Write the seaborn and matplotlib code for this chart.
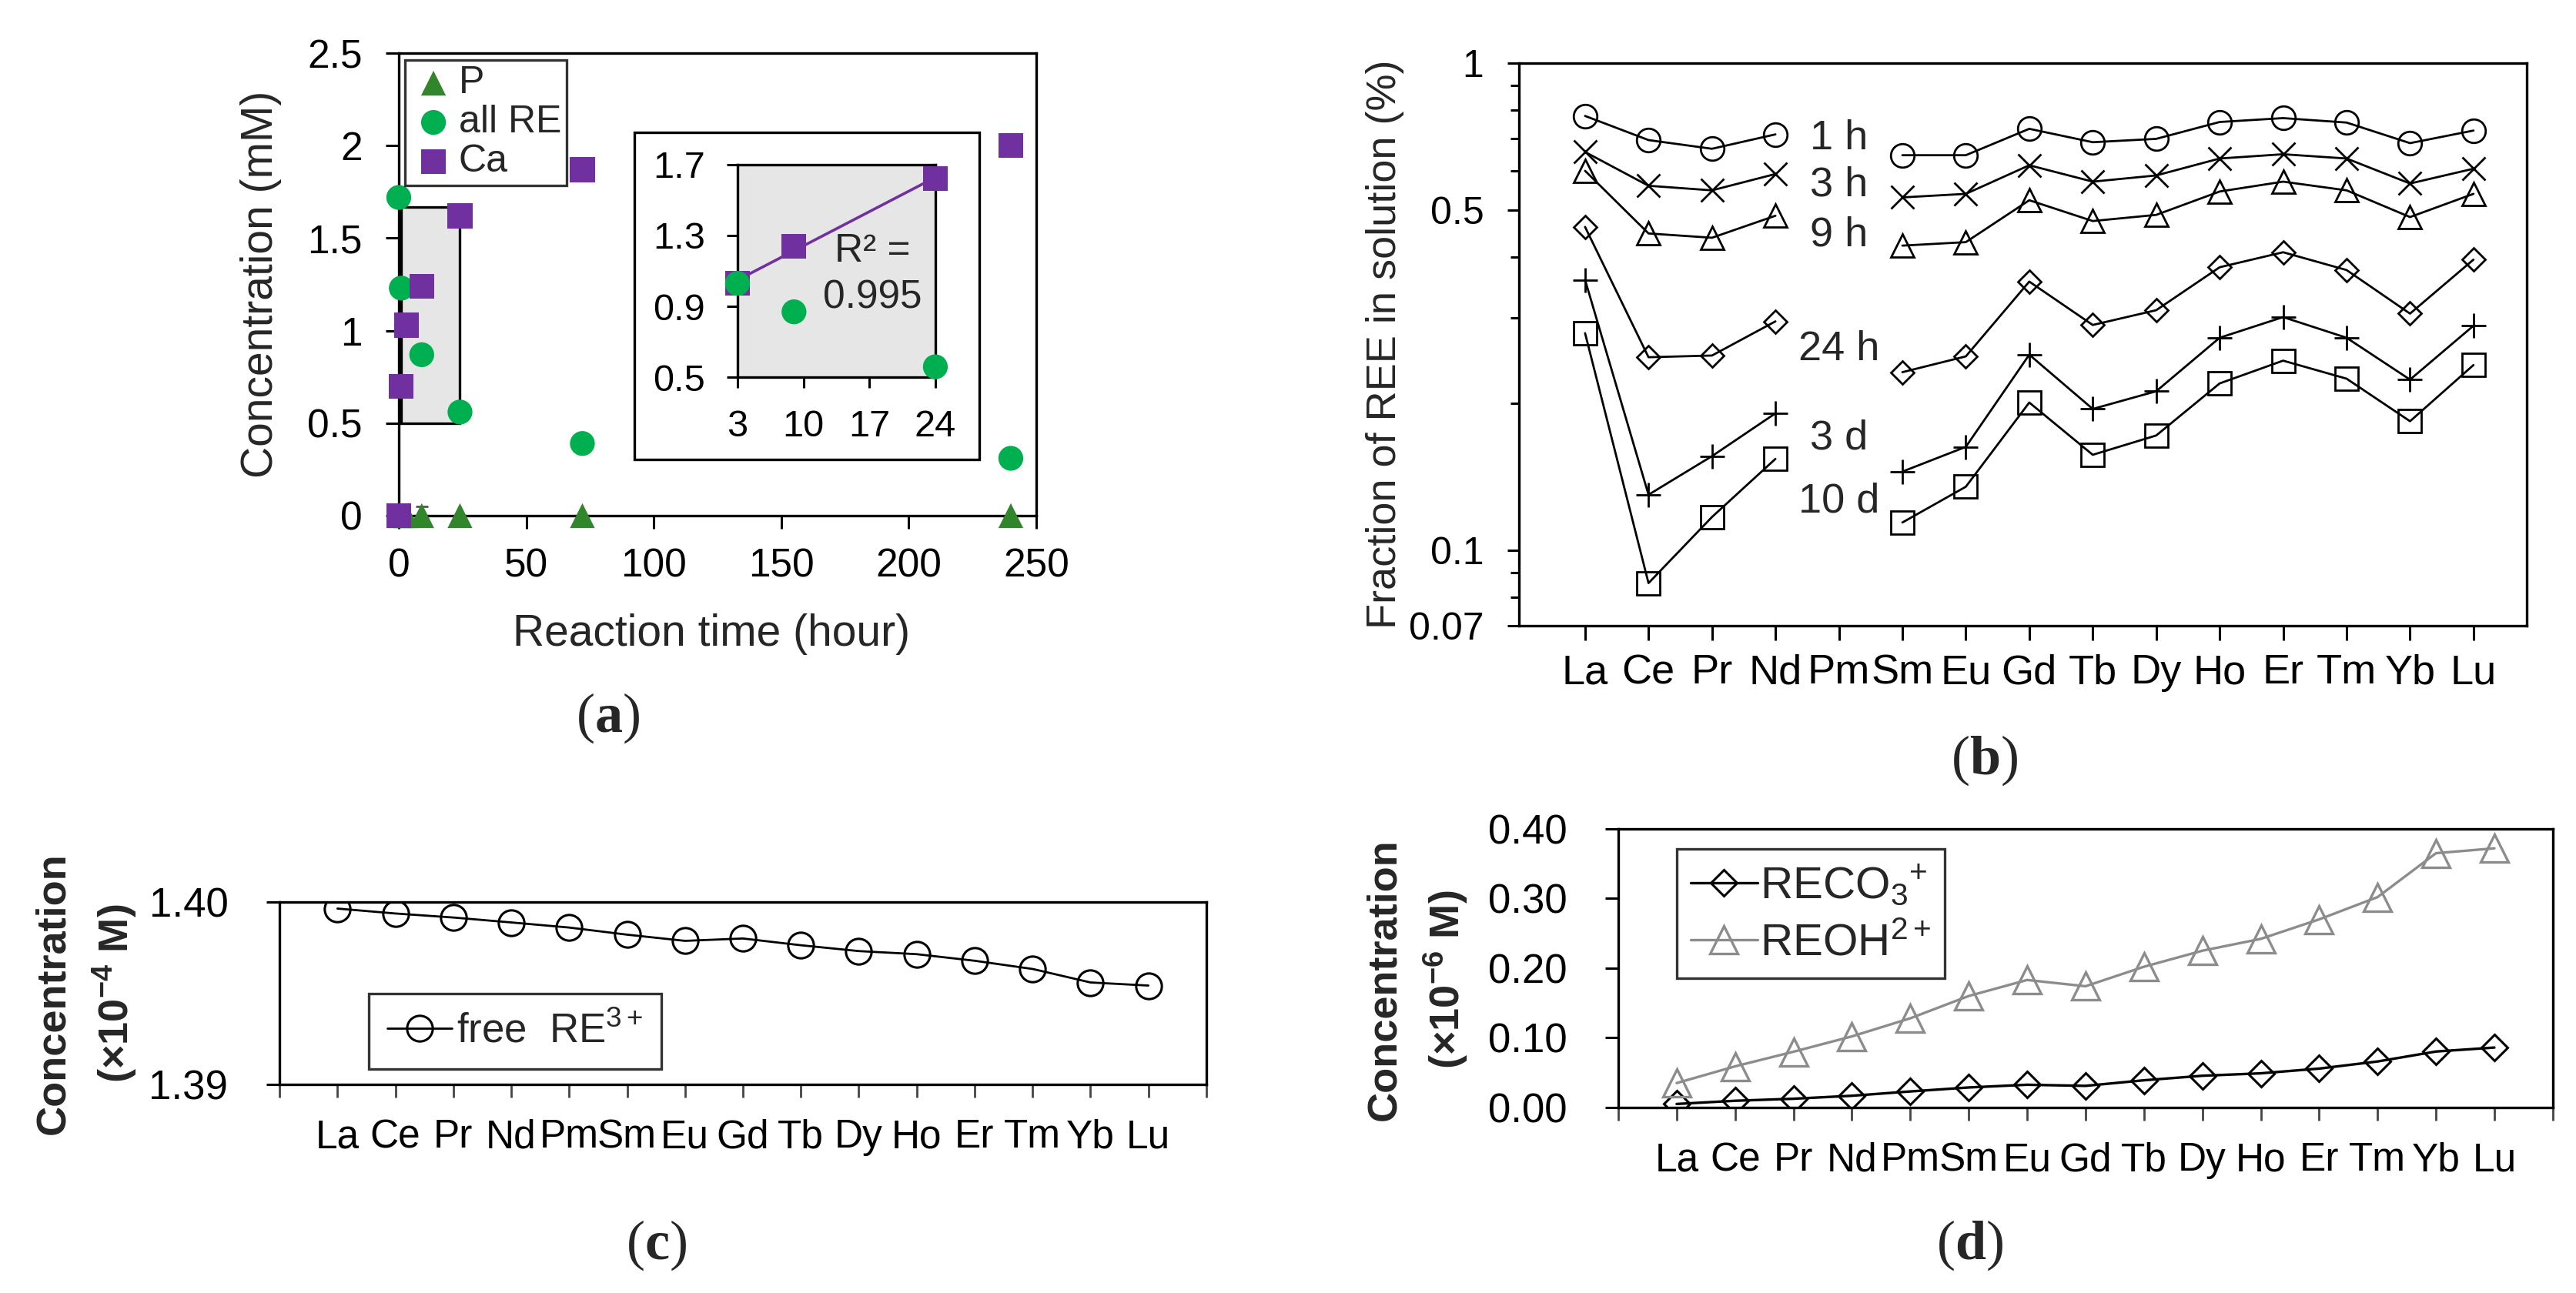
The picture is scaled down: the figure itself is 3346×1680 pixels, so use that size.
import numpy as np
import pandas as pd
import matplotlib
matplotlib.use("Agg")
import matplotlib.pyplot as plt
from matplotlib.patches import Rectangle
from matplotlib.ticker import FixedLocator, FixedFormatter, NullFormatter
import seaborn as sns

# --- (a) dissolution kinetics ---
hours = [0, 1, 3, 9, 24, 72, 240]
p_conc = [0, 0, 0, 0, 0, 0, 0]
re_conc = [1.72, 1.23, 1.03, 0.87, 0.56, 0.39, 0.31]
ca_conc = [0.0, 0.70, 1.03, 1.24, 1.62, 1.87, 2.00]

# --- (b) fraction of REE in solution (%), Pm not measured ---
elements = ["La", "Ce", "Pr", "Nd", "Pm", "Sm", "Eu", "Gd", "Tb", "Dy", "Ho", "Er", "Tm", "Yb", "Lu"]
nan = np.nan
frac_1h = [0.779, 0.695, 0.667, 0.714, nan, 0.647, 0.647, 0.733, 0.688, 0.699, 0.757, 0.771, 0.755, 0.685, 0.727]
frac_3h = [0.657, 0.560, 0.548, 0.592, nan, 0.530, 0.539, 0.617, 0.571, 0.588, 0.637, 0.650, 0.637, 0.566, 0.607]
frac_9h = [0.601, 0.447, 0.438, 0.486, nan, 0.422, 0.429, 0.523, 0.474, 0.488, 0.545, 0.571, 0.548, 0.483, 0.539]
frac_24h = [0.461, 0.249, 0.251, 0.295, nan, 0.232, 0.250, 0.356, 0.290, 0.311, 0.381, 0.409, 0.376, 0.306, 0.395]
frac_3d = [0.359, 0.130, 0.156, 0.191, nan, 0.145, 0.163, 0.252, 0.195, 0.212, 0.273, 0.301, 0.273, 0.224, 0.289]
frac_10d = [0.279, 0.0856, 0.117, 0.154, nan, 0.114, 0.135, 0.201, 0.157, 0.172, 0.220, 0.245, 0.225, 0.184, 0.240]
series_labels = ["1 h", "3 h", "9 h", "24 h", "3 d", "10 d"]
label_y = [0.699, 0.562, 0.443, 0.258, 0.170, 0.126]

# --- (c) free RE3+ (x1e-4 M) ---
free_re = [1.39964, 1.39937, 1.39915, 1.39888, 1.39860, 1.39821, 1.39787, 1.39800,
           1.39763, 1.39731, 1.39714, 1.39678, 1.39633, 1.39559, 1.39542]

# --- (d) complexes (x1e-6 M) ---
reco3 = [0.005, 0.0096, 0.0125, 0.0168, 0.023, 0.0287, 0.0326, 0.031,
         0.039, 0.0455, 0.049, 0.0558, 0.066, 0.0803, 0.086]
reoh = [0.035, 0.059, 0.080, 0.102, 0.128, 0.160, 0.183, 0.174,
        0.202, 0.225, 0.242, 0.270, 0.302, 0.365, 0.372]

sns.set_style("ticks")
plt.rcParams["font.family"] = ["Liberation Sans", "DejaVu Sans"]
plt.rcParams["mathtext.fontset"] = "custom"
plt.rcParams["mathtext.rm"] = "Liberation Sans"
plt.rcParams["mathtext.it"] = "Liberation Sans:italic"
plt.rcParams["mathtext.bf"] = "Liberation Serif:bold"
plt.rcParams["mathtext.default"] = "regular"
plt.rcParams["axes.linewidth"] = 1.2
plt.rcParams["axes.edgecolor"] = "black"
plt.rcParams["xtick.color"] = "black"
plt.rcParams["ytick.color"] = "black"
plt.rcParams["xtick.direction"] = "out"
plt.rcParams["ytick.direction"] = "out"

c_p, c_re, c_ca = "#31862b", "#00b050", "#7030a0"
pos = np.arange(len(elements))

fig = plt.figure(figsize=(16.73, 8.4), dpi=200)

# ================= (a) =================
ax_a = fig.add_axes([0.1548, 0.6012, 0.2475, 0.3577])
kin = pd.DataFrame({"hour": hours, "P": p_conc, "all RE": re_conc, "Ca": ca_conc})
ax_a.add_patch(Rectangle((1, 0.5), 23, 1.17, fc="#e6e6e6", ec="black", lw=1.2, zorder=1))
sns.scatterplot(data=kin, x="hour", y="P", marker="^", s=135, color=c_p, edgecolor="none",
                clip_on=False, label="P", ax=ax_a, zorder=3)
ax_a.errorbar([9], [0], yerr=[[0], [0.05]], fmt="none", ecolor="#555555", elinewidth=1, capsize=3, zorder=2)
sns.scatterplot(data=kin, x="hour", y="all RE", marker="o", s=135, color=c_re, edgecolor="none",
                clip_on=False, label="all RE", ax=ax_a, zorder=3)
sns.scatterplot(data=kin, x="hour", y="Ca", marker="s", s=135, color=c_ca, edgecolor="none",
                clip_on=False, label="Ca", ax=ax_a, zorder=3)
ax_a.set_xlim(0, 250)
ax_a.set_ylim(0, 2.5)
ax_a.set_xticks(np.arange(0, 251, 50))
ax_a.set_yticks(np.arange(0, 2.51, 0.5))
ax_a.set_yticklabels(["0", "0.5", "1", "1.5", "2", "2.5"])
ax_a.tick_params(labelsize=18.5, length=6, width=1.1, pad=9)
ax_a.tick_params(axis="y", pad=11)
ax_a.set_ylabel("Concentration (mM)", fontsize=20.5, va="center")
ax_a.yaxis.set_label_coords(-0.216, 0.5)
ax_a.set_xlabel("Reaction time (hour)", fontsize=20.5, va="center")
ax_a.xaxis.set_label_coords(0.49, -0.256)
leg = ax_a.legend(loc="center", bbox_to_anchor=(0.1365, 0.850), fontsize=18, frameon=True,
                  fancybox=False, edgecolor="black", handletextpad=0.05, labelspacing=0.1,
                  borderpad=0.15, handlelength=1.2, borderaxespad=0)
leg.get_frame().set_linewidth(1.2)

# white box holding the inset
ax_a.add_patch(Rectangle((92.5, 0.303), 135, 1.77, fc="white", ec="black", lw=1.2, zorder=4))
ax_in = ax_a.inset_axes([132.8, 0.747, 77.6, 1.151], transform=ax_a.transData)
ax_in.set_facecolor("#e6e6e6")
sub = kin[(kin["hour"] >= 3) & (kin["hour"] <= 24)]
sns.regplot(data=sub, x="hour", y="Ca", scatter=False, ci=None, truncate=True, color=c_ca,
            line_kws={"lw": 1.3}, ax=ax_in)
sns.scatterplot(data=sub, x="hour", y="Ca", marker="s", s=135, color=c_ca, edgecolor="none",
                clip_on=False, ax=ax_in, zorder=3)
sns.scatterplot(data=sub, x="hour", y="all RE", marker="o", s=135, color=c_re, edgecolor="none",
                clip_on=False, ax=ax_in, zorder=4)
ax_in.set_xlim(3, 24)
ax_in.set_ylim(0.5, 1.7)
ax_in.set_xticks([3, 10, 17, 24])
ax_in.set_yticks([0.5, 0.9, 1.3, 1.7])
ax_in.set_yticklabels(["0.5", "0.9", "1.3", "1.7"])
ax_in.tick_params(labelsize=17.5, length=5, width=1.1, pad=10)
ax_in.set_xlabel("")
ax_in.set_ylabel("")
for s in ax_in.spines.values():
    s.set_linewidth(1.2)
ax_in.text(17.3, 1.21, "R² =", fontsize=18.5, ha="center", va="center")
ax_in.text(17.3, 0.95, "0.995", fontsize=18.5, ha="center", va="center")

# ================= (b) =================
ax_b = fig.add_axes([0.5897, 0.5161, 0.3912, 0.4351])
seg = [0, 0, 0, 0, 1, 2, 2, 2, 2, 2, 2, 2, 2, 2, 2]
all_frac = [frac_1h, frac_3h, frac_9h, frac_24h, frac_3d, frac_10d]
mk_b = ["o", "x", "^", "D", "+", "s"]
ms_b = [11, 11, 11, 7.8, 11.5, 10.5]
for vals, mk, ms in zip(all_frac, mk_b, ms_b):
    d = pd.DataFrame({"pos": pos, "frac": vals, "seg": seg}).dropna()
    sns.lineplot(data=d, x="pos", y="frac", units="seg", estimator=None, color="black", lw=1.0,
                 marker=mk, ms=ms, mfc="none", mec="black", mew=1.0, ax=ax_b, legend=False)
for lab, yv in zip(series_labels, label_y):
    ax_b.text(4, yv, lab, fontsize=19.5, ha="center", va="center")
ax_b.set_yscale("log")
ax_b.set_ylim(0.07, 1)
ax_b.set_xlim(-1.04, 14.84)
ax_b.yaxis.set_major_locator(FixedLocator([0.07, 0.1, 0.5, 1]))
ax_b.yaxis.set_major_formatter(FixedFormatter(["0.07", "0.1", "0.5", "1"]))
ax_b.yaxis.set_minor_locator(FixedLocator([0.08, 0.09, 0.2, 0.3, 0.4, 0.6, 0.7, 0.8, 0.9]))
ax_b.yaxis.set_minor_formatter(NullFormatter())
ax_b.set_xticks(pos)
ax_b.set_xticklabels(elements)
ax_b.tick_params(axis="y", which="major", labelsize=18, length=5.5, width=1.1, pad=11)
ax_b.tick_params(axis="y", which="minor", length=4, width=1.1)
ax_b.tick_params(axis="x", labelsize=19.5, length=7, width=1.1, pad=6)
ax_b.set_xlabel("")
ax_b.set_ylabel("Fraction of REE in solution (%)", fontsize=19.5, va="center")
ax_b.yaxis.set_label_coords(-0.133, 0.5)

# ================= (c) =================
ax_c = fig.add_axes([0.1085, 0.1613, 0.3598, 0.1411])
dc = pd.DataFrame({"pos": pos, "conc": free_re})
sns.lineplot(data=dc, x="pos", y="conc", color="black", lw=1.0, marker="o", ms=12, mfc="none",
             mec="black", mew=1.1, label="free  RE$^{3+}$", ax=ax_c)
ax_c.set_xlim(-1, 15)
ax_c.set_ylim(1.39, 1.40)
ax_c.set_xticks(np.arange(-1, 16))
ax_c.set_xticklabels([""] + elements + [""])
ax_c.set_yticks([1.39, 1.40])
ax_c.set_yticklabels(["1.39", "1.40"])
ax_c.tick_params(axis="x", labelsize=18.5, length=6, width=1.0, pad=10, color="#444444")
ax_c.tick_params(axis="y", labelsize=19, length=6, width=1.1, pad=18)
ax_c.set_xlabel("")
ax_c.set_ylabel("Concentration\n(×10$^{-4}$ M)", fontsize=19.5, fontweight="bold", va="center",
                linespacing=1.5)
ax_c.yaxis.set_label_coords(-0.208, 0.5)
leg_c = ax_c.legend(loc="center", bbox_to_anchor=(0.254, 0.291), fontsize=19, frameon=True,
                    fancybox=False, edgecolor="black", handlelength=1.6, handletextpad=0.1,
                    borderpad=0.45, borderaxespad=0)
leg_c.get_frame().set_linewidth(1.2)

# ================= (d) =================
ax_d = fig.add_axes([0.6282, 0.1435, 0.3628, 0.2155])
dd = pd.DataFrame({"pos": pos, "RECO3": reco3, "REOH": reoh})
sns.lineplot(data=dd, x="pos", y="RECO3", color="black", lw=1.2, marker="D", ms=8.8, mfc="none",
             mec="black", mew=1.1, label="RECO$_3$$^{+}$", ax=ax_d)
sns.lineplot(data=dd, x="pos", y="REOH", color="#8c8c8c", lw=1.2, marker="^", ms=13, mfc="none",
             mec="#8c8c8c", mew=1.2, label="REOH$^{2+}$", ax=ax_d)
ax_d.set_xlim(-1, 15)
ax_d.set_ylim(0, 0.40)
ax_d.set_xticks(np.arange(-1, 16))
ax_d.set_xticklabels([""] + elements + [""])
ax_d.set_yticks(np.arange(0, 0.41, 0.1))
ax_d.set_yticklabels(["0.00", "0.10", "0.20", "0.30", "0.40"])
ax_d.tick_params(axis="x", labelsize=18.5, length=6, width=1.0, pad=10, color="#444444")
ax_d.tick_params(axis="y", labelsize=19, length=6, width=1.1, pad=18)
ax_d.set_xlabel("")
ax_d.set_ylabel("Concentration\n(×10$^{-6}$ M)", fontsize=19.5, fontweight="bold", va="center",
                linespacing=1.5)
ax_d.yaxis.set_label_coords(-0.215, 0.46)
leg_d = ax_d.legend(loc="center", bbox_to_anchor=(0.206, 0.695), fontsize=21, frameon=True,
                    fancybox=False, edgecolor="black", handlelength=1.5, handletextpad=0.05,
                    borderpad=0.3, labelspacing=0.35, borderaxespad=0)
leg_d.get_frame().set_linewidth(1.2)

# panel letters
for txt, x, y in [("a", 790, 933), ("b", 2578, 988), ("c", 853, 1618), ("d", 2559, 1618)]:
    fig.text(x / 3346, 1 - y / 1680, "($\\mathbf{" + txt + "}$)", fontsize=26,
             family="Liberation Serif", ha="center", va="center")

fig.savefig("out.png", dpi=200, facecolor="white")
